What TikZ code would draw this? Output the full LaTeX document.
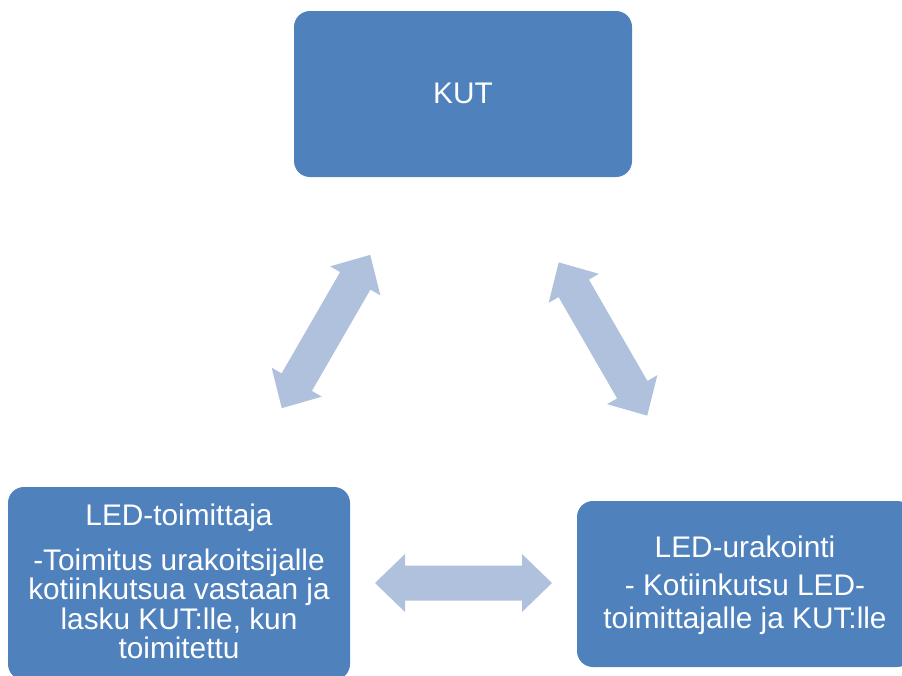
\documentclass[tikz,border=0pt]{standalone}
\usepackage{fontspec}
\setmainfont{Liberation Sans}
\definecolor{boxblue}{RGB}{79,129,189}
\definecolor{arrowblue}{RGB}{176,193,222}
\begin{document}
\begin{tikzpicture}[x=1pt,y=-1pt,
  block/.style={fill=boxblue, rounded corners=16pt, inner sep=0pt},
  txt/.style={text=white, font=\fontsize{29.8}{30}\selectfont, inner sep=0pt, anchor=base},
  dblarrow/.pic={
    \fill[arrowblue] (-88.5,0) -- (-58.5,-29) -- (-58.5,-17.5) -- (58.5,-17.5)
      -- (58.5,-29) -- (88.5,0) -- (58.5,29) -- (58.5,17.5) -- (-58.5,17.5)
      -- (-58.5,29) -- cycle;
  }]
\useasboundingbox (0,0) rectangle (902,675);
\clip (0,0) rectangle (902,675);

% boxes
\node[block, minimum width=338pt, minimum height=166pt] (kut) at (463,94) {};
\node[block, minimum width=342pt, minimum height=193pt] (supplier) at (179,583.5) {};
\node[block, minimum width=336pt, minimum height=166pt] (contractor) at (745,584) {};

% box texts
\node[txt] (kutlabel) at (463,103) {KUT};

\node[txt] (sup1) at (179,525) {LED-toimittaja};
\node[txt] (sup2) at (179,570) {-Toimitus urakoitsijalle};
\node[txt] (sup3) at (179,599) {kotiinkutsua vastaan ja};
\node[txt] (sup4) at (179,629) {lasku KUT:lle, kun};
\node[txt] (sup5) at (179,658) {toimitettu};

\node[txt] (con1) at (745,557) {LED-urakointi};
\node[txt] (con2) at (745,595) {- Kotiinkutsu LED-};
\node[txt] (con3) at (745,628) {toimittajalle ja KUT:lle};

% two-way block arrows between the boxes
\coordinate (kutsup) at (326,331.5);
\coordinate (kutcon) at (603,339);
\coordinate (supcon) at (463.5,583);
\pic[rotate=60] at (kutsup) {dblarrow};
\pic[rotate=-60] at (kutcon) {dblarrow};
\pic at (supcon) {dblarrow};
\end{tikzpicture}
\end{document}
